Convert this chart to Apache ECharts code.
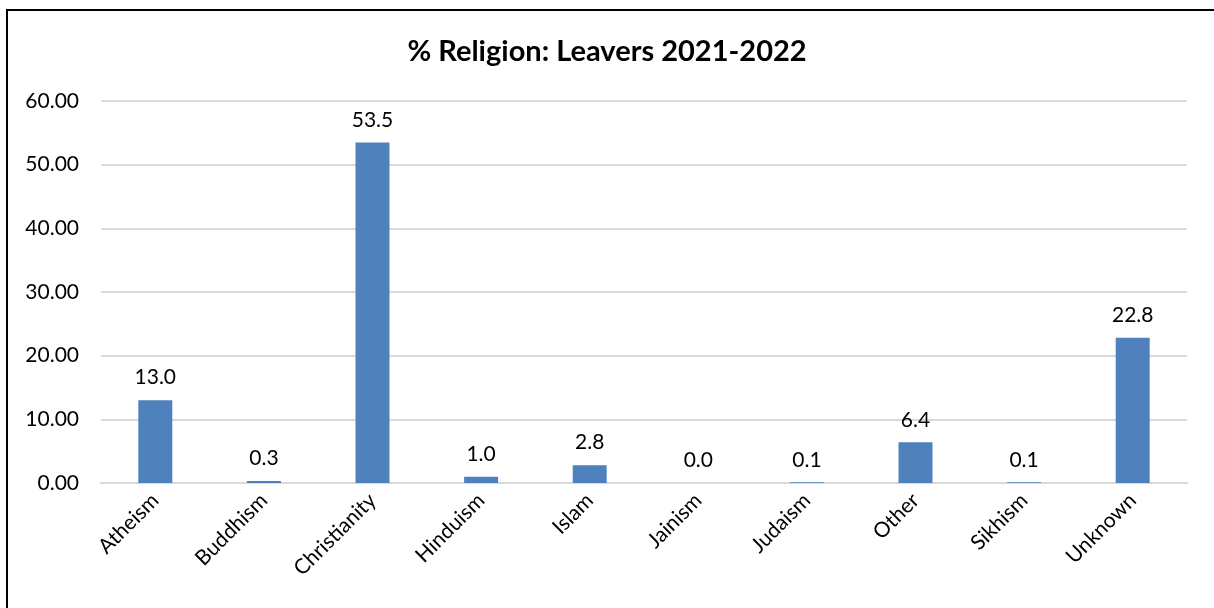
<!DOCTYPE html>
<html>
<head>
<meta charset="utf-8">
<script src="https://cdn.jsdelivr.net/npm/echarts@6/dist/echarts.min.js"></script>
<style>
  html, body { margin: 0; padding: 0; background: #fff; }
  #chart { width: 1214px; height: 608px; }
</style>
</head>
<body>
<div id="chart"></div>
<script>
// Leavers by religion, percent
const categories = ['Atheism', 'Buddhism', 'Christianity', 'Hinduism', 'Islam', 'Jainism', 'Judaism', 'Other', 'Sikhism', 'Unknown'];
const percentages = [13.0, 0.3, 53.5, 1.0, 2.8, 0.0, 0.1, 6.4, 0.1, 22.8];
const titleText = '% Religion: Leavers 2021-2022';

const font = 'Lato, "Open Sans", sans-serif';
const chart = echarts.init(document.getElementById('chart'), null, { renderer: 'canvas' });

chart.setOption({
  animation: false,
  backgroundColor: '#fff',
  graphic: [{
    type: 'rect',
    shape: { x: 7, y: 10, width: 1400, height: 800 },
    style: { fill: 'none', stroke: '#000', lineWidth: 2 },
    z: 100
  }],
  title: {
    text: titleText,
    left: 'center',
    top: 32,
    textStyle: { fontFamily: font, fontSize: 29, fontWeight: 'bold', color: '#000' }
  },
  grid: { left: 101, right: 27, top: 101, bottom: 125, containLabel: false },
  xAxis: {
    type: 'category',
    data: categories,
    axisLine: { show: true, lineStyle: { color: '#d9d9d9', width: 2 } },
    axisTick: { show: false },
    axisLabel: {
      rotate: 45,
      interval: 0,
      margin: 14,
      fontFamily: font,
      fontSize: 21,
      color: '#000'
    }
  },
  yAxis: {
    type: 'value',
    min: 0,
    max: 60,
    interval: 10,
    axisLine: { show: false },
    axisTick: { show: false },
    splitLine: { lineStyle: { color: '#d9d9d9', width: 2 } },
    axisLabel: {
      margin: 22,
      fontFamily: font,
      fontSize: 21,
      color: '#000',
      formatter: v => v.toFixed(2)
    }
  },
  series: [{
    type: 'bar',
    data: percentages,
    barWidth: 34,
    itemStyle: { color: '#4f81bd' },
    label: {
      show: true,
      position: 'top',
      distance: 12,
      fontFamily: font,
      fontSize: 21,
      color: '#000',
      formatter: p => p.value.toFixed(1)
    }
  }]
});
</script>
</body>
</html>
